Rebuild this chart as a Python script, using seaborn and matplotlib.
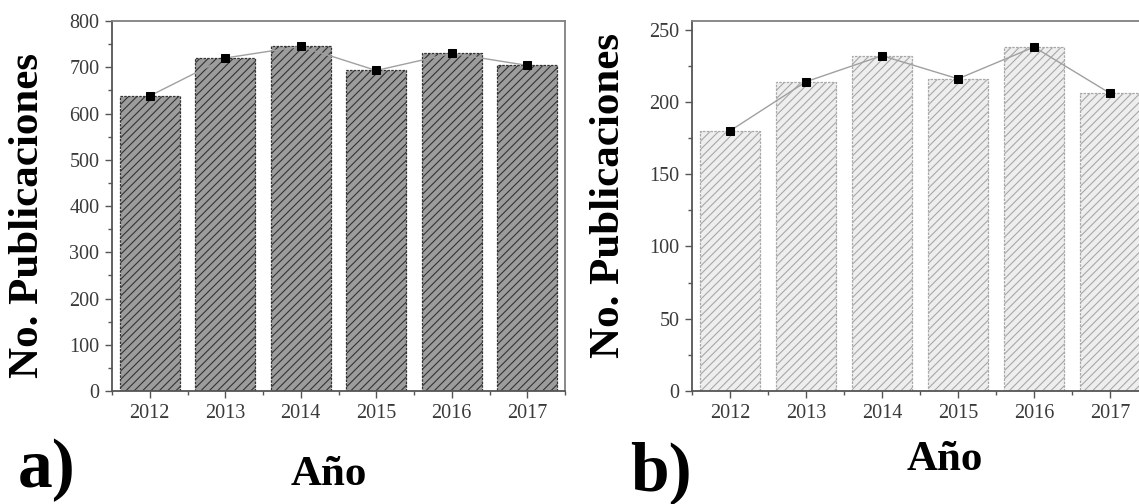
import numpy as np
import pandas as pd
import matplotlib
matplotlib.use("Agg")
import matplotlib.pyplot as plt
from matplotlib.ticker import MultipleLocator
import seaborn as sns

years = ["2012", "2013", "2014", "2015", "2016", "2017"]
pubs_a = [638, 720, 745, 693, 730, 704]
pubs_b = [180, 214, 232, 216, 238, 206]

sns.set_theme(style="white")
plt.rcParams["font.family"] = ["Liberation Serif", "DejaVu Serif"]
plt.rcParams["hatch.linewidth"] = 0.8

W, H = 1139, 504
fig = plt.figure(figsize=(W / 100, H / 100), dpi=100)

def px_axes(left, top, right, bottom):
    return fig.add_axes([left / W, 1 - bottom / H, (right - left) / W, (bottom - top) / H])

ax_a = px_axes(112, 21, 565, 391)
ax_b = px_axes(692, 21, 1148, 391)

def draw(ax, vals, face, edge, hatch, ymax, major, minor, xlim, spine_col):
    df = pd.DataFrame({"year": years, "n": vals})
    sns.barplot(data=df, x="year", y="n", ax=ax, color=face, width=0.8,
                edgecolor=edge, linewidth=0.9, hatch=hatch, saturation=1)
    for p in ax.patches:
        p.set_linestyle((0, (2, 1)))
    sns.lineplot(x=np.arange(len(vals)), y=vals, ax=ax, color="#a0a0a0",
                 linewidth=1.0, marker="s", markersize=6, markerfacecolor="black",
                 markeredgecolor="black", zorder=5)
    ax.set_xlim(*xlim)
    ax.set_ylim(0, ymax)
    ax.yaxis.set_major_locator(MultipleLocator(major))
    ax.yaxis.set_minor_locator(MultipleLocator(minor))
    ax.set_xticks(range(len(years)))
    ax.set_xticklabels(years)
    ax.set_xticks(np.arange(-0.5, len(years), 1.0), minor=True)
    ax.tick_params(axis="both", which="major", direction="out", length=5, width=1,
                   color="#555555", labelsize=14.5, labelcolor="#3a3a3a", pad=4,
                   bottom=True, left=True)
    ax.tick_params(axis="both", which="minor", direction="out", length=3, width=1,
                   color="#555555", bottom=True, left=True)
    ax.set_xlabel("")
    ax.set_ylabel("")
    for s in ax.spines.values():
        s.set_visible(True)
        s.set_color(spine_col)
        s.set_linewidth(1.3)
    ax.spines["left"].set_color("#555555")
    ax.spines["bottom"].set_color("#555555")

draw(ax_a, pubs_a, "#9c9c9c", "#333333", "////", 800, 100, 50, (-0.46, 5.5), "#808080")
draw(ax_b, pubs_b, "#eeeeee", "#a8a8a8", "////", 256, 50, 25, (-0.5, 5.5), "#808080")

bold = dict(fontweight="bold", color="black", family=["Liberation Serif", "DejaVu Serif"])
fig.text(28 / W, 1 - 215 / H, "No. Publicaciones", rotation=90, ha="center", va="center", fontsize=31, **bold)
fig.text(609 / W, 1 - 195 / H, "No. Publicaciones", rotation=90, ha="center", va="center", fontsize=31, **bold)
fig.text(329 / W, 1 - 485 / H, "Año", ha="center", va="baseline", fontsize=31, **bold)
fig.text(945 / W, 1 - 470 / H, "Año", ha="center", va="baseline", fontsize=31, **bold)
fig.text(18 / W, 1 - 487 / H, "a)", ha="left", va="baseline", fontsize=50, **bold)
fig.text(630 / W, 1 - 490 / H, "b)", ha="left", va="baseline", fontsize=50, **bold)

fig.savefig("out.png", dpi=100)
